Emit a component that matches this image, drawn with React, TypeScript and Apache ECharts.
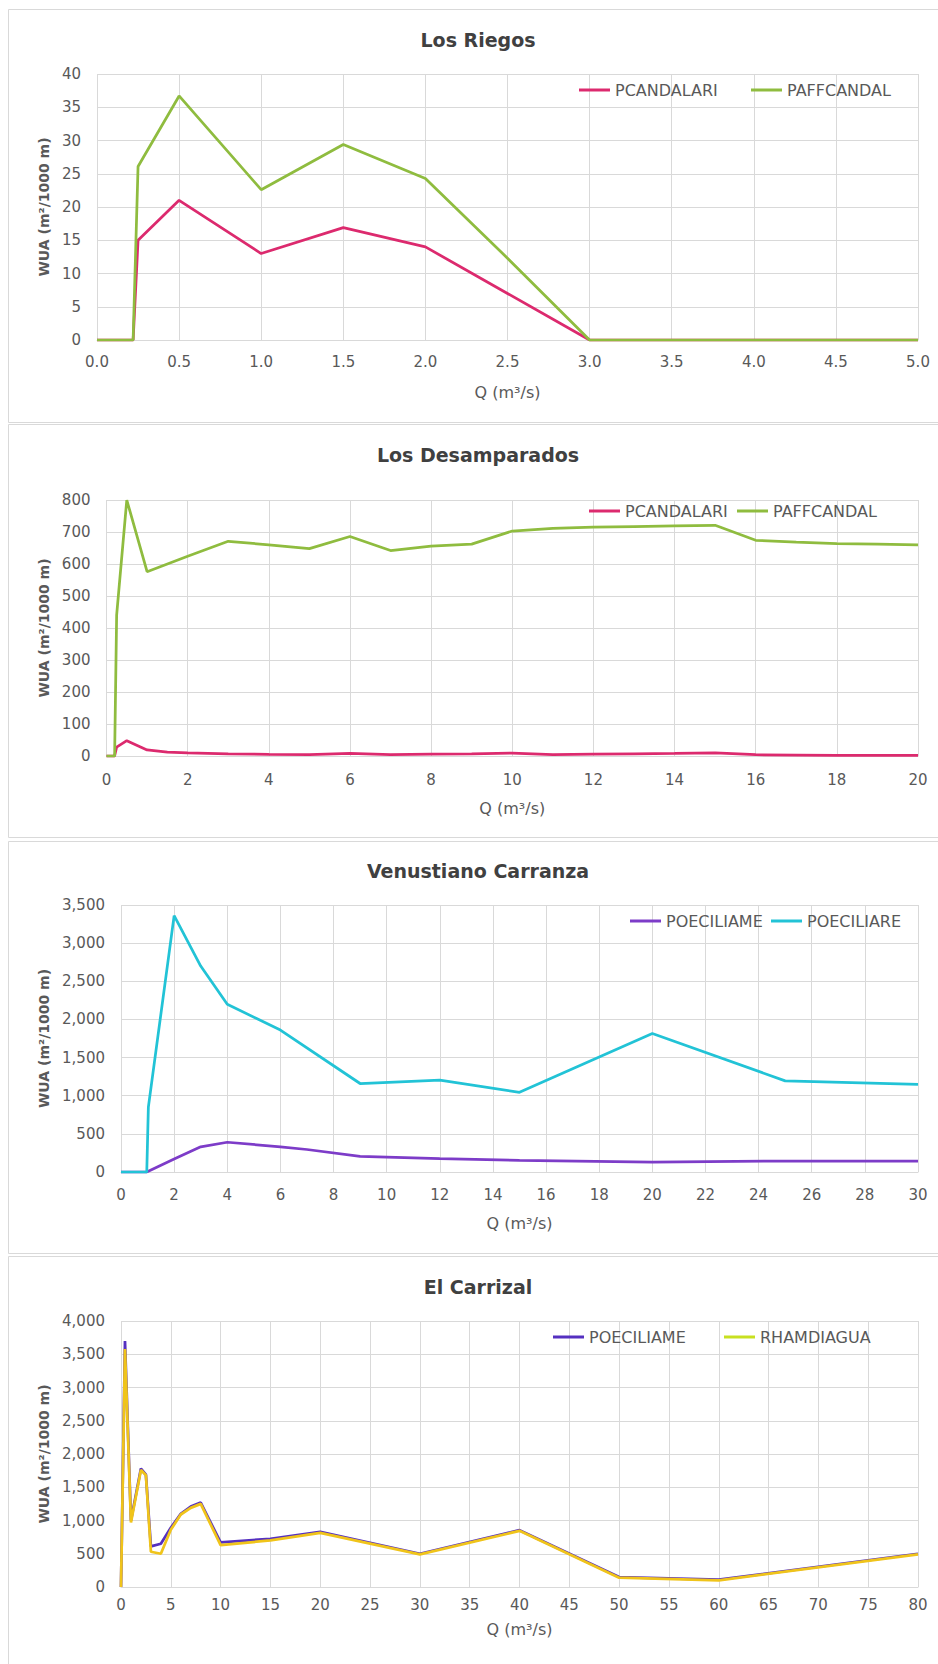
import React, { useEffect, useRef } from "react";
import * as echarts from "echarts";

// ---------- Los Riegos ----------
const riegosQ = [0, 0.22, 0.25, 0.5, 1.0, 1.5, 2.0, 2.5, 3.0, 3.5, 4.0, 4.5, 5.0];
const riegosPcandalari = [0, 0, 15, 21, 13, 16.9, 14, 7, 0, 0, 0, 0, 0];
const riegosPaffcandal = [0, 0, 26.1, 36.7, 22.6, 29.4, 24.3, 12.3, 0, 0, 0, 0, 0];

// ---------- Los Desamparados ----------
const desampQ = [0, 0.2, 0.25, 0.5, 1, 1.5, 2, 3, 4, 5, 6, 7, 8, 9, 10, 11, 12, 13, 14, 15, 16, 17, 18, 19, 20];
const desampPcandalari = [0, 0, 28, 48, 19, 12, 10, 7, 5, 4, 8, 4, 6, 7, 9, 4, 6, 7, 8, 10, 4, 3, 2, 2, 2];
const desampPaffcandal = [0, 0, 440, 800, 576, 600, 624, 671, 660, 648, 686, 642, 656, 662, 703, 711, 715, 717, 719, 721, 674, 668, 664, 662, 660];

// ---------- Venustiano Carranza ----------
const carranzaQme = [0, 0.97, 2, 3, 4, 6, 7, 9, 12, 15, 20, 25, 30];
const carranzaPoeciliame = [0, 0, 170, 330, 390, 330, 295, 205, 175, 153, 131, 144, 144];
const carranzaQre = [0, 0.97, 1.03, 2, 3, 4, 6, 9, 12, 15, 20, 25, 30];
const carranzaPoeciliare = [0, 0, 850, 3360, 2700, 2200, 1860, 1160, 1205, 1045, 1815, 1195, 1150];

// ---------- El Carrizal ----------
const carrizalQ = [0, 0.4, 1, 2, 2.5, 3, 4, 5, 6, 7, 8, 10, 15, 20, 30, 40, 50, 60, 80];
const carrizalPoeciliame = [0, 3700, 1000, 1780, 1690, 610, 650, 890, 1100, 1210, 1270, 670, 725, 830, 500, 855, 150, 110, 500];
const carrizalRhamdiagua = [0, 3580, 970, 1760, 1680, 530, 500, 860, 1090, 1190, 1250, 630, 700, 815, 490, 845, 140, 100, 490];

const titles = ["Los Riegos", "Los Desamparados", "Venustiano Carranza", "El Carrizal"];
const xMaxes = [5, 20, 30, 80];
const xIntervals = [0.5, 2, 2, 5];
const yMaxes = [40, 800, 3500, 4000];
const yIntervals = [5, 100, 500, 500];

const FONT = "DejaVu Sans";
const GRAY = "#595959";
const LINE = "#d9d9d9";

type S = { name: string; color: string; q: number[]; v: number[] };

const panels: {
  titleY: number; top: number; bottom: number; left: number;
  xMargin: number; xNameGap: number; legendY: number; legendX: number[];
  xFmt: (v: number) => string; yFmt: (v: number) => string; series: S[];
}[] = [
  {
    titleY: 40, top: 74, bottom: 340, left: 97, xMargin: 14, xNameGap: 44, legendY: 90, legendX: [579, 751],
    xFmt: (v) => v.toFixed(1), yFmt: (v) => String(v),
    series: [
      { name: "PCANDALARI", color: "#dc2a6e", q: riegosQ, v: riegosPcandalari },
      { name: "PAFFCANDAL", color: "#8fbc3f", q: riegosQ, v: riegosPaffcandal },
    ],
  },
  {
    titleY: 455, top: 500, bottom: 756, left: 106.5, xMargin: 16, xNameGap: 44, legendY: 511, legendX: [589, 737],
    xFmt: (v) => String(v), yFmt: (v) => String(v),
    series: [
      { name: "PCANDALARI", color: "#dc2a6e", q: desampQ, v: desampPcandalari },
      { name: "PAFFCANDAL", color: "#8fbc3f", q: desampQ, v: desampPaffcandal },
    ],
  },
  {
    titleY: 871, top: 905, bottom: 1172, left: 121, xMargin: 15, xNameGap: 43, legendY: 921, legendX: [630, 771],
    xFmt: (v) => String(v), yFmt: (v) => v.toLocaleString("en-US"),
    series: [
      { name: "POECILIAME", color: "#7d3cc8", q: carranzaQme, v: carranzaPoeciliame },
      { name: "POECILIARE", color: "#22c3d6", q: carranzaQre, v: carranzaPoeciliare },
    ],
  },
  {
    titleY: 1287, top: 1321, bottom: 1587, left: 121, xMargin: 10, xNameGap: 34, legendY: 1337, legendX: [553, 724],
    xFmt: (v) => String(v), yFmt: (v) => v.toLocaleString("en-US"),
    series: [
      { name: "POECILIAME", color: "#5530c0", q: carrizalQ, v: carrizalPoeciliame },
      { name: "RHAMDIAGUA", color: "#f0c41a", q: carrizalQ, v: carrizalRhamdiagua },
    ],
  },
];

const legendColors: Record<string, string> = { RHAMDIAGUA: "#c8e020" };

export default function App() {
  const ref = useRef<HTMLDivElement>(null);
  useEffect(() => {
    if (!ref.current) return;
    const chart = echarts.init(ref.current, undefined, { renderer: "svg" });
    const grid: any[] = [];
    const xAxis: any[] = [];
    const yAxis: any[] = [];
    const series: any[] = [];
    const legend: any[] = [];
    const graphic: any[] = [
      { type: "rect", silent: true, z: -10, shape: { x: 8.5, y: 9.5, width: 940, height: 413 }, style: { fill: "none", stroke: LINE, lineWidth: 1 } },
      { type: "rect", silent: true, z: -10, shape: { x: 8.5, y: 424.5, width: 940, height: 413 }, style: { fill: "none", stroke: LINE, lineWidth: 1 } },
      { type: "rect", silent: true, z: -10, shape: { x: 8.5, y: 841.5, width: 940, height: 412 }, style: { fill: "none", stroke: LINE, lineWidth: 1 } },
      { type: "rect", silent: true, z: -10, shape: { x: 8.5, y: 1256.5, width: 940, height: 440 }, style: { fill: "none", stroke: LINE, lineWidth: 1 } },
    ];
    panels.forEach((p, i) => {
      graphic.push({
        type: "text",
        x: 478,
        y: p.titleY,
        style: {
          text: titles[i], fill: "#404040", fontFamily: FONT, fontSize: 19, fontWeight: "bold",
          align: "center", verticalAlign: "middle",
        },
      });
      grid.push({ left: p.left, top: p.top, width: 918 - p.left, height: p.bottom - p.top });
      xAxis.push({
        type: "value", gridIndex: i, min: 0, max: xMaxes[i], interval: xIntervals[i],
        axisLine: { show: true, lineStyle: { color: LINE } },
        axisTick: { show: false },
        splitLine: { show: true, lineStyle: { color: LINE } },
        axisLabel: { color: GRAY, fontFamily: FONT, fontSize: 15, margin: p.xMargin, formatter: p.xFmt },
        name: "Q (m³/s)", nameLocation: "middle", nameGap: p.xNameGap,
        nameTextStyle: { color: GRAY, fontFamily: FONT, fontSize: 16 },
      });
      yAxis.push({
        type: "value", gridIndex: i, min: 0, max: yMaxes[i], interval: yIntervals[i],
        axisLine: { show: false }, axisTick: { show: false },
        splitLine: { show: true, lineStyle: { color: LINE } },
        axisLabel: { color: GRAY, fontFamily: FONT, fontSize: 15, margin: 16, formatter: p.yFmt },
        name: "WUA (m²/1000 m)", nameLocation: "middle", nameGap: p.left - 52, nameRotate: 90,
        nameTextStyle: { color: GRAY, fontFamily: FONT, fontSize: 14, fontWeight: "bold" },
      });
      p.series.forEach((s, k) => {
        series.push({
          type: "line", name: s.name, xAxisIndex: i, yAxisIndex: i,
          data: s.q.map((x, j) => [x, s.v[j]]),
          symbol: "none", showSymbol: false,
          lineStyle: { color: s.color, width: 2.75 }, itemStyle: { color: s.color },
          z: 2 + k,
        });
        const lc = legendColors[s.name] || s.color;
        legend.push({
          left: p.legendX[k], top: p.legendY - 10, padding: 0, itemWidth: 31, itemHeight: 3,
          icon: "rect", itemGap: 0,
          selectedMode: false,
          data: [{ name: s.name, icon: "rect", itemStyle: { color: lc, borderWidth: 0 } }],
          textStyle: { color: GRAY, fontFamily: FONT, fontSize: 16, lineHeight: 20 },
        });
      });
    });
    chart.setOption({ animation: false, backgroundColor: "#ffffff", grid, xAxis, yAxis, series, legend, graphic });
    return () => chart.dispose();
  }, []);
  return <div ref={ref} style={{ position: "absolute", left: 0, top: 0, width: 938, height: 1664 }} />;
}
